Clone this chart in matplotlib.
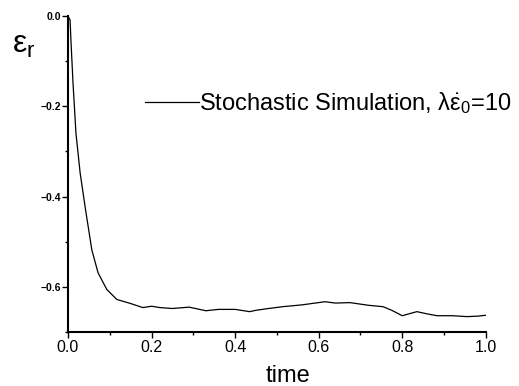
import matplotlib
matplotlib.use("Agg")
import matplotlib.pyplot as plt
from matplotlib.ticker import MultipleLocator

plt.rcParams['font.family'] = ['Liberation Sans', 'DejaVu Sans']
plt.rcParams['mathtext.fontset'] = 'custom'
plt.rcParams['mathtext.rm'] = 'Liberation Sans'
plt.rcParams['mathtext.it'] = 'Liberation Sans'

# values
time = [0.0, 0.005, 0.007, 0.012, 0.019, 0.029, 0.041, 0.057, 0.072, 0.093,
        0.117, 0.15, 0.179, 0.2, 0.22, 0.25, 0.29, 0.31, 0.33, 0.36, 0.4,
        0.435, 0.45, 0.48, 0.514, 0.56, 0.615, 0.64, 0.675, 0.72, 0.754,
        0.775, 0.8, 0.835, 0.86, 0.883, 0.92, 0.955, 0.98, 1.0]
eps_r = [0.0, -0.009, -0.053, -0.148, -0.259, -0.347, -0.423, -0.518, -0.569, -0.606,
         -0.628, -0.637, -0.646, -0.643, -0.646, -0.648, -0.645, -0.649, -0.653, -0.650, -0.650,
         -0.655, -0.652, -0.648, -0.644, -0.640, -0.633, -0.636, -0.635, -0.641, -0.644,
         -0.652, -0.664, -0.655, -0.660, -0.664, -0.664, -0.666, -0.665, -0.663]
label = r'Stochastic Simulation, $\lambda\dot{\varepsilon}_0$=10'

fig = plt.figure(figsize=(5.19, 3.86), dpi=100)
ax = fig.add_axes([0.131, 0.140, 0.805, 0.8185])
ax.plot(time, eps_r, color='black', lw=0.9, label=label)

ax.set_xlim(0.0, 1.0)
ax.set_ylim(-0.70, 0.0)
ax.xaxis.set_major_locator(MultipleLocator(0.2))
ax.xaxis.set_minor_locator(MultipleLocator(0.1))
ax.yaxis.set_major_locator(MultipleLocator(0.2))
ax.yaxis.set_minor_locator(MultipleLocator(0.1))
ax.spines['top'].set_visible(False)
ax.spines['right'].set_visible(False)
ax.spines['left'].set_linewidth(1.5)
ax.spines['bottom'].set_linewidth(1.5)
ax.tick_params(which='major', direction='out', length=4, width=1)
ax.tick_params(which='minor', direction='out', length=2.5, width=1)
ax.tick_params(axis='x', labelsize=11.5, pad=2)
ax.tick_params(axis='y', labelsize=7.5, pad=1)
for t in ax.get_yticklabels():
    t.set_fontweight('bold')

ax.set_xlabel('time', fontsize=17)
ax.xaxis.set_label_coords(0.526, -0.105)
ax.set_ylabel(r'$\varepsilon_r$', fontsize=23, rotation=0)
ax.yaxis.set_label_coords(-0.105, 0.86)

ax.legend(loc='center left', bbox_to_anchor=(0.184, 0.725), frameon=False,
          fontsize=17, handlelength=2.3, handletextpad=0.0, borderaxespad=0,
          borderpad=0)

fig.savefig('out.png', dpi=100)
